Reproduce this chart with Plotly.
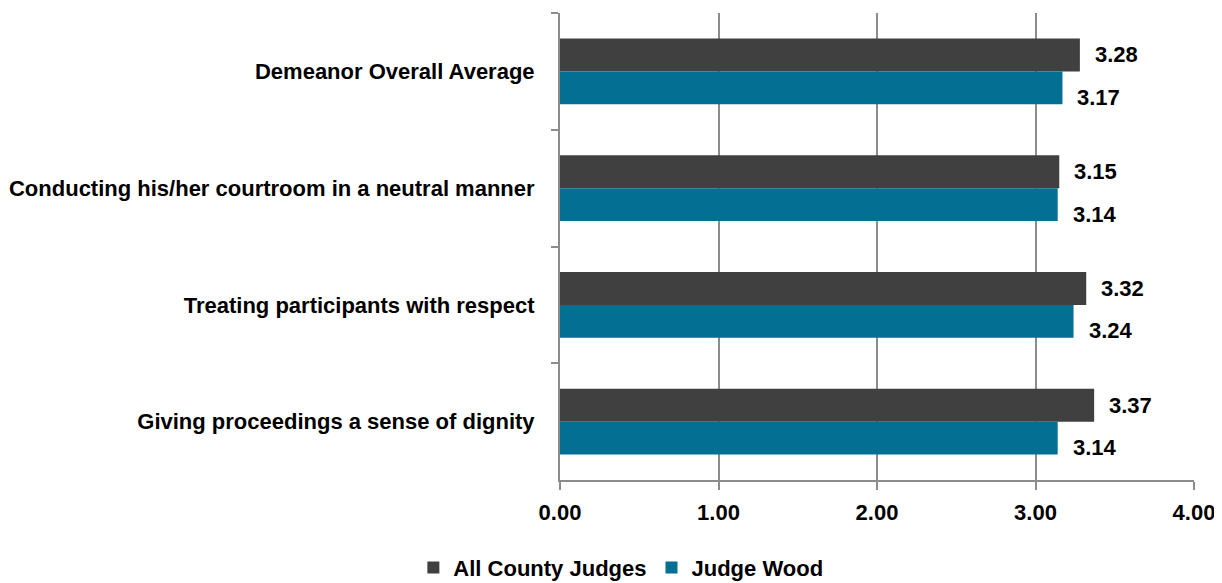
import plotly.graph_objects as go

categories = [
    "Demeanor Overall Average",
    "Conducting his/her courtroom in a neutral manner",
    "Treating participants with respect",
    "Giving proceedings a sense of dignity",
]
all_county = [3.28, 3.15, 3.32, 3.37]
judge_wood = [3.17, 3.14, 3.24, 3.14]
series_names = ["All County Judges", "Judge Wood"]
x_ticks = [0, 1, 2, 3, 4]

FONT = "Liberation Sans, Arial, sans-serif"
DARK = "#404040"
TEAL = "#026f93"
GRID = "#8c8c8c"
FS = 22

fig = go.Figure()
fig.add_trace(go.Bar(y=categories, x=all_county, name=series_names[0], orientation="h",
                     marker=dict(color=DARK, line=dict(width=0))))
fig.add_trace(go.Bar(y=categories, x=judge_wood, name=series_names[1], orientation="h",
                     marker=dict(color=TEAL, line=dict(width=0))))

label_font = dict(family=FONT, size=FS, color="black", weight="bold")
annotations = []
for cat, v in zip(categories, all_county):
    annotations.append(dict(x=v, y=cat, xref="x", yref="y", text=f"{v:.2f}", showarrow=False,
                            xanchor="left", yanchor="middle", xshift=13, yshift=16.5,
                            font=label_font))
for cat, v in zip(categories, judge_wood):
    annotations.append(dict(x=v, y=cat, xref="x", yref="y", text=f"{v:.2f}", showarrow=False,
                            xanchor="left", yanchor="middle", xshift=13, yshift=-26,
                            font=label_font))

# page body has an 8px default margin; figure sized so the plot lands where the reference has it
fig.update_layout(
    width=1214, height=575,
    margin=dict(l=552, r=28, t=5, b=103, autoexpand=False),
    paper_bgcolor="white", plot_bgcolor="white",
    barmode="group", bargap=0.435, bargroupgap=0,
    font=dict(family=FONT, size=FS, color="black", weight="bold"),
    annotations=annotations,
    showlegend=True,
    legend=dict(orientation="h", x=0.096, y=-0.188,
                xanchor="center", yanchor="middle", traceorder="normal",
                font=dict(family=FONT, size=FS, color="black", weight="bold"),
                itemsizing="constant"),
)
fig.update_xaxes(range=[0, 4], tickvals=x_ticks, tickformat=".2f",
                 showgrid=True, gridcolor=GRID, gridwidth=2,
                 showline=True, linecolor=GRID, linewidth=2,
                 ticks="outside", ticklen=8, tickcolor=GRID, tickwidth=2,
                 tickfont=dict(family=FONT, size=FS, color="black", weight="bold"),
                 ticklabelstandoff=4,
                 zeroline=False, automargin=False)
fig.update_yaxes(categoryorder="array", categoryarray=categories, autorange="reversed",
                 showline=True, linecolor=GRID, linewidth=2,
                 ticks="outside", ticklen=7, tickcolor=GRID, tickwidth=2,
                 tickson="boundaries", showgrid=False, automargin=False,
                 tickfont=dict(family=FONT, size=FS, color="black", weight="bold"),
                 ticklabelstandoff=19)

fig.write_html("out.html")
